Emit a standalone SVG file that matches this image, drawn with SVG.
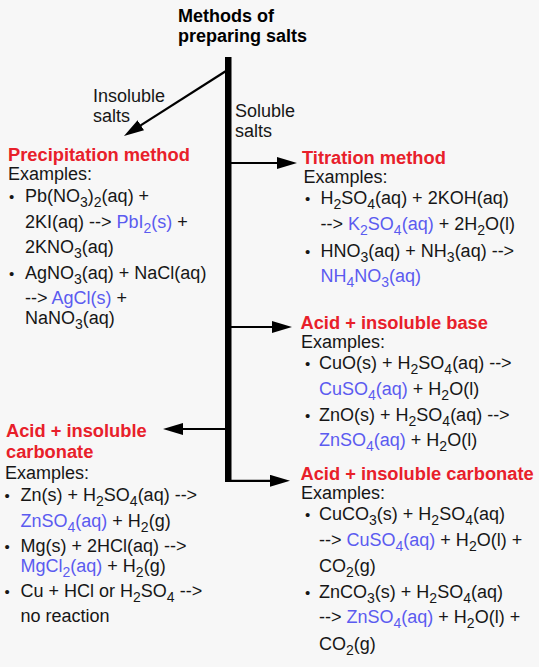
<svg xmlns="http://www.w3.org/2000/svg" width="539" height="667" viewBox="0 0 539 667">
<defs>
<style>
text{font-family:"Liberation Sans",Arial,Helvetica,sans-serif;font-size:18px;fill:#161616}
.title{font-weight:bold;font-size:18px;fill:#000}
.h{font-weight:bold;font-size:18.3px;fill:#e8202a}
.b{fill:#5b5bf0}
.s{font-size:14px}
.bul{font-size:15px}
.ln{stroke:#000;stroke-width:2.2;fill:none}
</style>
<marker id="ah" markerUnits="userSpaceOnUse" markerWidth="20" markerHeight="12" refX="10" refY="6" orient="auto">
<path d="M0,0 L20,6 L0,12 z" fill="#000"/>
</marker>
</defs>
<rect x="0" y="0" width="539" height="667" fill="#f7f7f7"/>

<g id="connectors">
<rect x="225" y="57" width="6.5" height="425" fill="#000"/>
<line class="ln" x1="226" y1="71" x2="132.4" y2="130.6" marker-end="url(#ah)"/>
<line class="ln" x1="231" y1="163" x2="287" y2="163" marker-end="url(#ah)"/>
<line class="ln" x1="231" y1="327" x2="282" y2="327" marker-end="url(#ah)"/>
<line class="ln" x1="225" y1="429" x2="173" y2="429" marker-end="url(#ah)"/>
<line class="ln" x1="228" y1="480.8" x2="280" y2="480.8" marker-end="url(#ah)"/>
</g>

<g id="title">
<text class="title" x="178" y="22">Methods of</text>
<text class="title" x="178" y="42">preparing salts</text>
</g>

<g id="label-insoluble">
<text x="93" y="102">Insoluble</text>
<text x="93" y="122">salts</text>
</g>

<g id="label-soluble">
<text x="235" y="117">Soluble</text>
<text x="235" y="137">salts</text>
</g>

<g id="precipitation">
<text class="h" x="8" y="161">Precipitation method</text>
<text x="8" y="179.5">Examples:</text>
<text class="bul" x="9" y="202">•</text>
<text x="25" y="202">Pb(NO<tspan class="s" dy="5">3</tspan><tspan dy="-5">)</tspan><tspan class="s" dy="5">2</tspan><tspan dy="-5">(aq) +</tspan></text>
<text x="25" y="227.5">2KI(aq) --&gt; <tspan class="b">PbI<tspan class="s" dy="5">2</tspan><tspan dy="-5">(s)</tspan></tspan> +</text>
<text x="25" y="253">2KNO<tspan class="s" dy="5">3</tspan><tspan dy="-5">(aq)</tspan></text>
<text class="bul" x="9" y="278.5">•</text>
<text x="25" y="278.5">AgNO<tspan class="s" dy="5">3</tspan><tspan dy="-5">(aq) + NaCl(aq)</tspan></text>
<text x="25" y="304">--&gt; <tspan class="b">AgCl(s)</tspan> +</text>
<text x="25" y="324">NaNO<tspan class="s" dy="5">3</tspan><tspan dy="-5">(aq)</tspan></text>
</g>

<g id="titration">
<text class="h" x="302" y="164.3">Titration method</text>
<text x="303.5" y="182.7">Examples:</text>
<text class="bul" x="305" y="204">•</text>
<text x="320.5" y="204">H<tspan class="s" dy="5">2</tspan><tspan dy="-5">SO</tspan><tspan class="s" dy="5">4</tspan><tspan dy="-5">(aq) + 2KOH(aq)</tspan></text>
<text x="320.5" y="230">--&gt; <tspan class="b">K<tspan class="s" dy="5">2</tspan><tspan dy="-5">SO</tspan><tspan class="s" dy="5">4</tspan><tspan dy="-5">(aq)</tspan></tspan> + 2H<tspan class="s" dy="5">2</tspan><tspan dy="-5">O(l)</tspan></text>
<text class="bul" x="305" y="257.3">•</text>
<text x="320.5" y="257.3">HNO<tspan class="s" dy="5">3</tspan><tspan dy="-5">(aq) + NH</tspan><tspan class="s" dy="5">3</tspan><tspan dy="-5">(aq) --&gt;</tspan></text>
<text x="320.5" y="282.3"><tspan class="b">NH<tspan class="s" dy="5">4</tspan><tspan dy="-5">NO</tspan><tspan class="s" dy="5">3</tspan><tspan dy="-5">(aq)</tspan></tspan></text>
</g>

<g id="acid-insoluble-base">
<text class="h" x="300.5" y="329">Acid + insoluble base</text>
<text x="301" y="347.5">Examples:</text>
<text class="bul" x="305" y="369">•</text>
<text x="319" y="369">CuO(s) + H<tspan class="s" dy="5">2</tspan><tspan dy="-5">SO</tspan><tspan class="s" dy="5">4</tspan><tspan dy="-5">(aq) --&gt;</tspan></text>
<text x="319" y="394.5"><tspan class="b">CuSO<tspan class="s" dy="5">4</tspan><tspan dy="-5">(aq)</tspan></tspan> + H<tspan class="s" dy="5">2</tspan><tspan dy="-5">O(l)</tspan></text>
<text class="bul" x="305" y="420.5">•</text>
<text x="319" y="420.5">ZnO(s) + H<tspan class="s" dy="5">2</tspan><tspan dy="-5">SO</tspan><tspan class="s" dy="5">4</tspan><tspan dy="-5">(aq) --&gt;</tspan></text>
<text x="319" y="446"><tspan class="b">ZnSO<tspan class="s" dy="5">4</tspan><tspan dy="-5">(aq)</tspan></tspan> + H<tspan class="s" dy="5">2</tspan><tspan dy="-5">O(l)</tspan></text>
</g>

<g id="acid-insoluble-carbonate-right">
<text class="h" x="300.5" y="480.3">Acid + insoluble carbonate</text>
<text x="301" y="499">Examples:</text>
<text class="bul" x="305" y="520">•</text>
<text x="319" y="520">CuCO<tspan class="s" dy="5">3</tspan><tspan dy="-5">(s) + H</tspan><tspan class="s" dy="5">2</tspan><tspan dy="-5">SO</tspan><tspan class="s" dy="5">4</tspan><tspan dy="-5">(aq)</tspan></text>
<text x="319" y="545.5">--&gt; <tspan class="b">CuSO<tspan class="s" dy="5">4</tspan><tspan dy="-5">(aq)</tspan></tspan> + H<tspan class="s" dy="5">2</tspan><tspan dy="-5">O(l) +</tspan></text>
<text x="319" y="571.7">CO<tspan class="s" dy="5">2</tspan><tspan dy="-5">(g)</tspan></text>
<text class="bul" x="305" y="597.5">•</text>
<text x="319" y="597.5">ZnCO<tspan class="s" dy="5">3</tspan><tspan dy="-5">(s) + H</tspan><tspan class="s" dy="5">2</tspan><tspan dy="-5">SO</tspan><tspan class="s" dy="5">4</tspan><tspan dy="-5">(aq)</tspan></text>
<text x="319" y="623.3">--&gt; <tspan class="b">ZnSO<tspan class="s" dy="5">4</tspan><tspan dy="-5">(aq)</tspan></tspan> + H<tspan class="s" dy="5">2</tspan><tspan dy="-5">O(l) +</tspan></text>
<text x="319" y="650">CO<tspan class="s" dy="5">2</tspan><tspan dy="-5">(g)</tspan></text>
</g>

<g id="acid-insoluble-carbonate-left">
<text class="h" x="6" y="437.3">Acid + insoluble</text>
<text class="h" x="6" y="458.3">carbonate</text>
<text x="5" y="479.3">Examples:</text>
<text class="bul" x="4.5" y="501">•</text>
<text x="20.5" y="501">Zn(s) + H<tspan class="s" dy="5">2</tspan><tspan dy="-5">SO</tspan><tspan class="s" dy="5">4</tspan><tspan dy="-5">(aq) --&gt;</tspan></text>
<text x="20.5" y="526.7"><tspan class="b">ZnSO<tspan class="s" dy="5">4</tspan><tspan dy="-5">(aq)</tspan></tspan> + H<tspan class="s" dy="5">2</tspan><tspan dy="-5">(g)</tspan></text>
<text class="bul" x="4.5" y="551.7">•</text>
<text x="20.5" y="551.7">Mg(s) + 2HCl(aq) --&gt;</text>
<text x="20.5" y="571.7"><tspan class="b">MgCl<tspan class="s" dy="5">2</tspan><tspan dy="-5">(aq)</tspan></tspan> + H<tspan class="s" dy="5">2</tspan><tspan dy="-5">(g)</tspan></text>
<text class="bul" x="4.5" y="596.7">•</text>
<text x="20.5" y="596.7">Cu + HCl or H<tspan class="s" dy="5">2</tspan><tspan dy="-5">SO</tspan><tspan class="s" dy="5">4</tspan><tspan dy="-5"> --&gt;</tspan></text>
<text x="20.5" y="621.7">no reaction</text>
</g>
</svg>
